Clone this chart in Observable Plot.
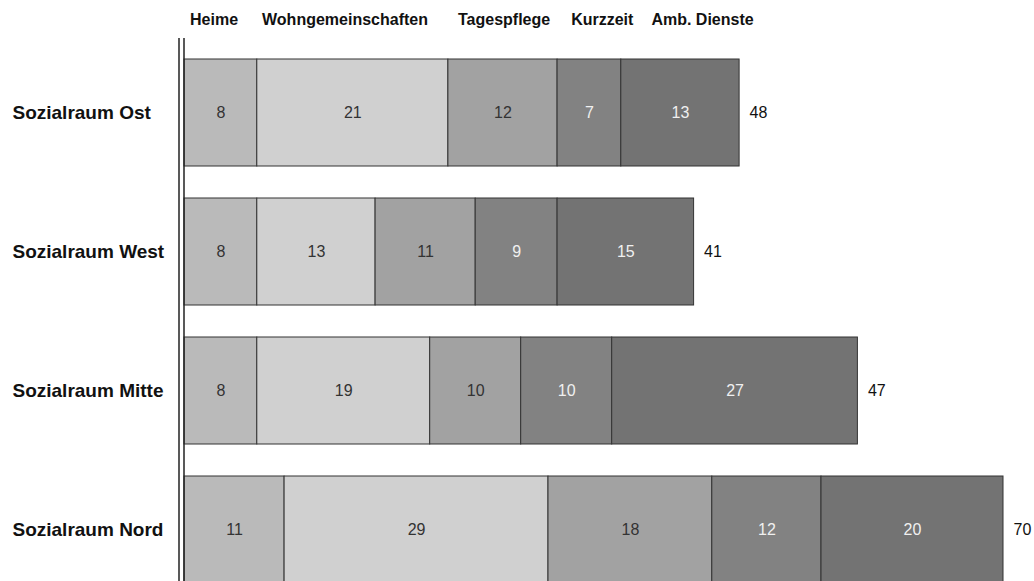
<!DOCTYPE html>
<html>
<head>
<meta charset="utf-8">
<script src="https://cdn.jsdelivr.net/npm/d3@7"></script>
<script src="https://cdn.jsdelivr.net/npm/@observablehq/plot@0.6"></script>
<style>
  html, body { margin: 0; padding: 0; background: #fff; overflow: hidden; }
  #wrap { position: relative; width: 1034px; height: 581px; overflow: hidden; font-family: "Liberation Sans", Arial, sans-serif; }
  #heads { position: absolute; top: 11px; left: 190px; display: flex; font-weight: bold; font-size: 16px; line-height: 18px; color: #111; white-space: nowrap; }
  #chart { position: absolute; top: 0; left: 0; }
</style>
</head>
<body>
<div id="wrap">
  <div id="chart"></div>
  <div id="heads"></div>
</div>
<script>
const regions = ["Sozialraum Ost", "Sozialraum West", "Sozialraum Mitte", "Sozialraum Nord"];
const categories = ["Heime", "Wohngemeinschaften", "Tagespflege", "Kurzzeit", "Amb. Dienste"];
const heime = [8, 8, 8, 11];
const wohngemeinschaften = [21, 13, 19, 29];
const tagespflege = [12, 11, 10, 18];
const kurzzeit = [7, 9, 10, 12];
const ambDienste = [13, 15, 27, 20];
const totals = [48, 41, 47, 70];
const colors = ["#bababa", "#d0d0d0", "#a2a2a2", "#828282", "#737373"];
const darkText = ["Heime", "Wohngemeinschaften", "Tagespflege"];
const headGaps = [0, 24, 30, 21, 18];

const series = [heime, wohngemeinschaften, tagespflege, kurzzeit, ambDienste];
const rows = [];
regions.forEach((r, i) => {
  categories.forEach((c, j) => rows.push({region: r, cat: c, value: series[j][i]}));
});
const totalRows = regions.map((r, i) => ({
  region: r,
  end: series.reduce((s, arr) => s + arr[i], 0),
  total: totals[i]
}));

document.getElementById("heads").innerHTML = categories
  .map((c, i) => `<span style="margin-left:${headGaps[i]}px">${c}</span>`).join("");

const font = "Liberation Sans, Arial, sans-serif";
const chart = Plot.plot({
  width: 1034,
  height: 617,
  marginTop: 25,
  marginBottom: 0,
  marginLeft: 184,
  marginRight: 31,
  x: {domain: [0, 90], axis: null},
  y: {domain: regions, padding: 0.23, axis: null},
  color: {domain: categories, range: colors, type: "ordinal"},
  style: {fontFamily: font},
  marks: [
    Plot.barX(rows, Plot.stackX({x: "value", y: "region", z: "cat", fill: "cat", stroke: "#333", strokeWidth: 1, order: null})),
    Plot.text(rows, Plot.stackX({x: "value", y: "region", z: "cat", text: d => darkText.includes(d.cat) ? String(d.value) : "", fill: "#333", fontSize: 16, order: null})),
    Plot.text(rows, Plot.stackX({x: "value", y: "region", z: "cat", text: d => darkText.includes(d.cat) ? "" : String(d.value), fill: "#f0f0f0", fontSize: 16, order: null})),
    Plot.text(totalRows, {x: "end", y: "region", text: d => String(d.total), textAnchor: "start", dx: 10, fill: "#111", fontSize: 16}),
    Plot.text(regions, {y: d => d, text: d => d, frameAnchor: "left", textAnchor: "start", dx: -172, fontWeight: "bold", fontSize: 19, fill: "#111"}),
    Plot.ruleX([0], {stroke: "#222", strokeWidth: 1.5, insetTop: 13, dx: -0.5}),
    Plot.ruleX([0], {stroke: "#222", strokeWidth: 1.5, insetTop: 13, dx: -5.5})
  ]
});
document.getElementById("chart").appendChild(chart);
</script>
</body>
</html>
